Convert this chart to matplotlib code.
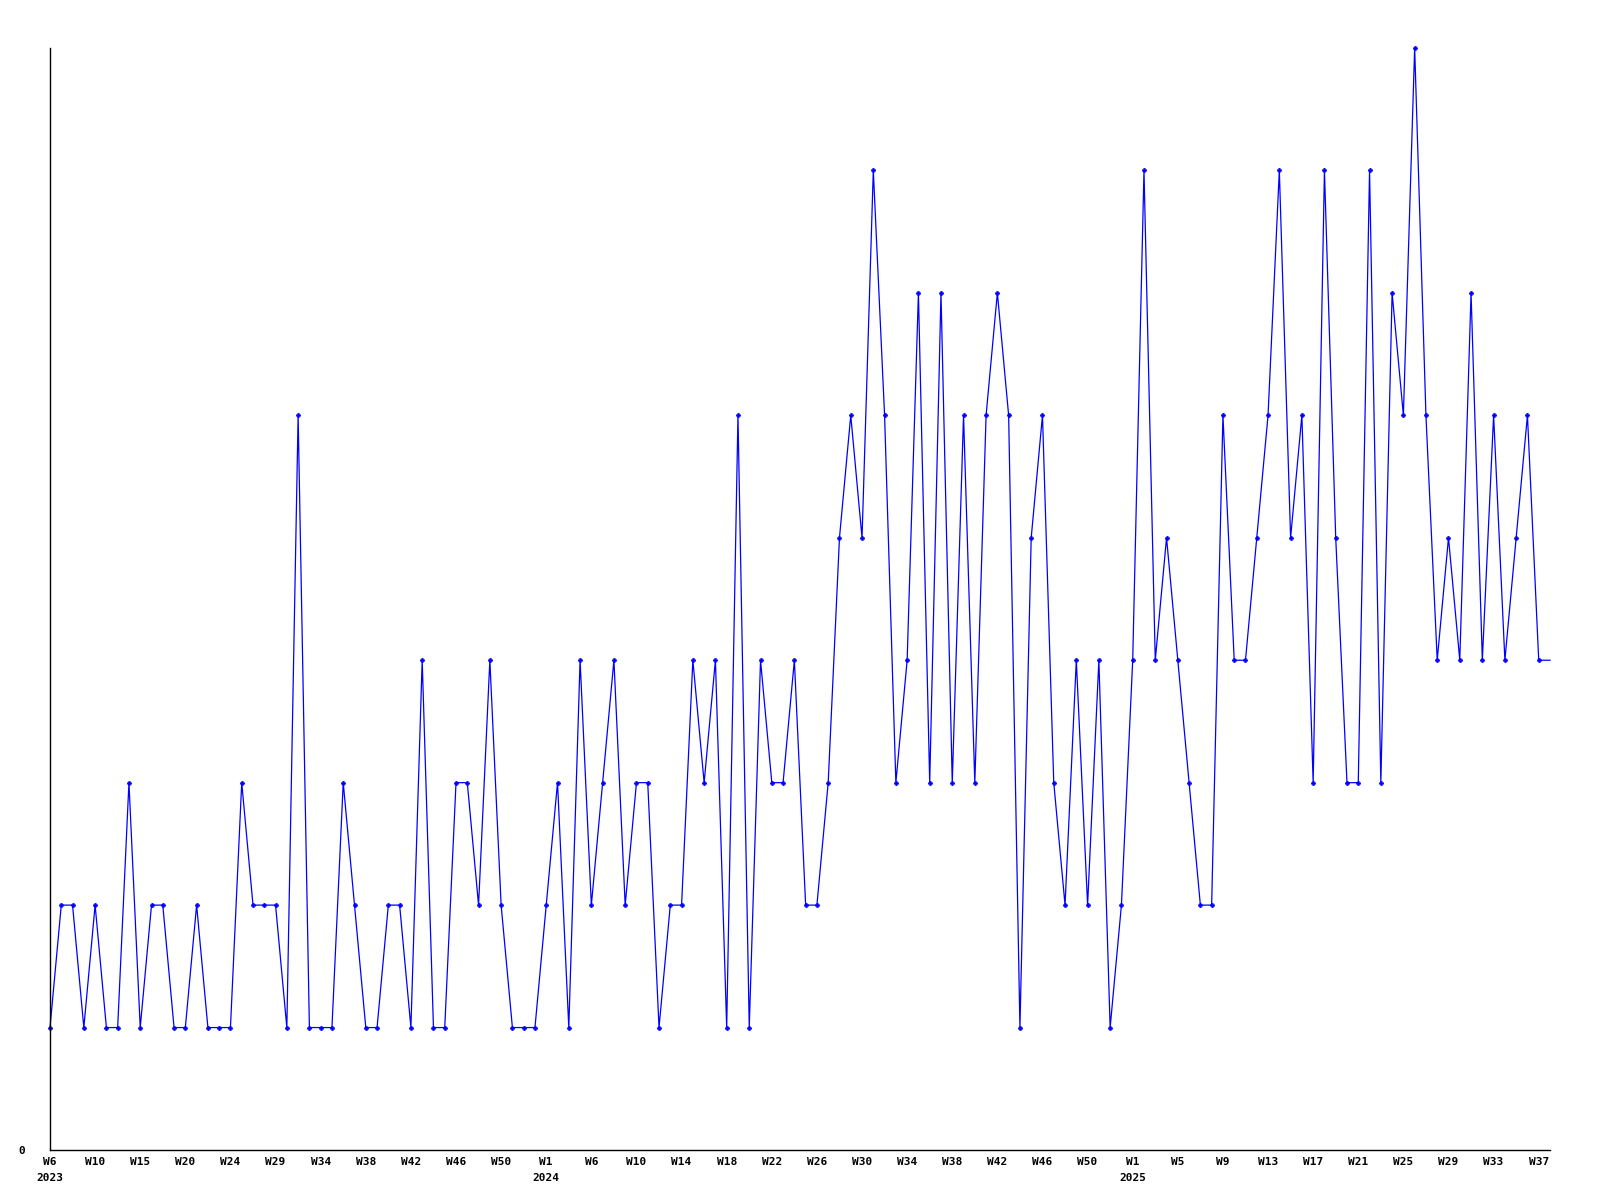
import matplotlib
matplotlib.use('Agg')
import matplotlib.pyplot as plt
import matplotlib.transforms as mtransforms

# weekly counts, 2023 W6 .. 2025 W38
values = [1, 2, 2, 1, 2, 1, 1, 3, 1, 2, 2, 1, 1, 2, 1, 1, 1, 3, 2, 2,
          2, 1, 6, 1, 1, 1, 3, 2, 1, 1, 2, 2, 1, 4, 1, 1, 3, 3, 2, 4,
          2, 1, 1, 1, 2, 3, 1, 4, 2, 3, 4, 2, 3, 3, 1, 2, 2, 4, 3, 4,
          1, 6, 1, 4, 3, 3, 4, 2, 2, 3, 5, 6, 5, 8, 6, 3, 4, 7, 3, 7,
          3, 6, 3, 6, 7, 6, 1, 5, 6, 3, 2, 4, 2, 4, 1, 2, 4, 8, 4, 5,
          4, 3, 2, 2, 6, 4, 4, 5, 6, 8, 5, 6, 3, 8, 5, 3, 3, 8, 3, 7,
          6, 9, 6, 4, 5, 4, 7, 4, 6, 4, 5, 6, 4, 4]

week_labels = ['W6', 'W10', 'W15', 'W20', 'W24', 'W29', 'W34', 'W38', 'W42', 'W46', 'W50',
               'W1', 'W6', 'W10', 'W14', 'W18', 'W22', 'W26', 'W30', 'W34', 'W38', 'W42', 'W46', 'W50',
               'W1', 'W5', 'W9', 'W13', 'W17', 'W21', 'W25', 'W29', 'W33', 'W37']
year_labels = {0: '2023', 11: '2024', 24: '2025'}

font = {'family': 'DejaVu Sans Mono', 'weight': 'bold', 'size': 8}

fig = plt.figure(figsize=(16, 12), dpi=100)
ax = fig.add_axes([50 / 1600, 50 / 1200, 1500 / 1600, 1102 / 1200])

x = list(range(len(values)))
ax.plot(x, values, color='#0000ff', lw=0.9, marker='P', markersize=3,
        markeredgewidth=0.5, markevery=list(range(len(values) - 1)),
        clip_on=False)

ax.set_xlim(0, len(values) - 1)
ax.set_ylim(0, 9)

for side in ['top', 'right']:
    ax.spines[side].set_visible(False)
for side in ['left', 'bottom']:
    ax.spines[side].set_linewidth(1.0)
    ax.spines[side].set_color('black')

tick_pos = list(range(0, len(values), 4))[:len(week_labels)]
ax.set_xticks(tick_pos)
ax.set_xticklabels(week_labels, fontdict=font)
ax.tick_params(axis='x', length=0, pad=5)

ax.set_yticks([0])
ax.set_yticklabels(['0'], fontdict=font)
ax.tick_params(axis='y', length=0, pad=18)

trans = mtransforms.blended_transform_factory(ax.transData, ax.transAxes)
offset = mtransforms.ScaledTranslation(0, -28 / 100, fig.dpi_scale_trans)
for k, yr in year_labels.items():
    ax.text(tick_pos[k], 0, yr, transform=trans + offset, ha='center', va='center',
            fontdict=font)

fig.savefig('out.png', dpi=100)
